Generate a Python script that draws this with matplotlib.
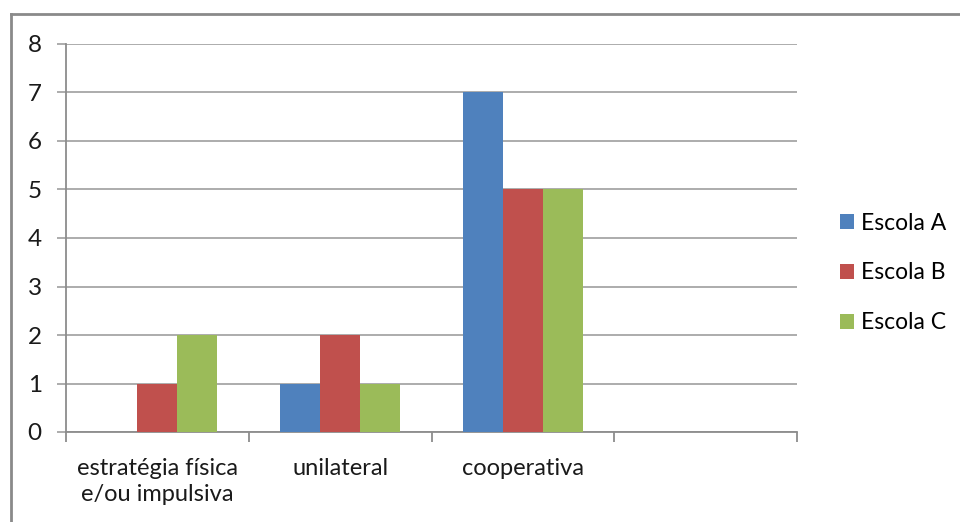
import matplotlib
matplotlib.use("Agg")
import matplotlib.pyplot as plt
from matplotlib.lines import Line2D
import numpy as np

categories = ["estratégia física\ne/ou impulsiva", "unilateral", "cooperativa", ""]
series_names = ["Escola A", "Escola B", "Escola C"]
escola_a = [0, 1, 7, 0]
escola_b = [1, 2, 5, 0]
escola_c = [2, 1, 5, 0]
yticks = [0, 1, 2, 3, 4, 5, 6, 7, 8]

colors = ["#4F81BD", "#C0504D", "#9BBB59"]
plt.rcParams['font.family'] = ['Lato', 'DejaVu Sans']
fs = 17

fig = plt.figure(figsize=(9.6, 5.22), dpi=100)
ax = fig.add_axes([66/960, 1-432/522, (797-66)/960, (432-44)/522])

centers = np.arange(len(categories)) + 0.5
w = 0.219
for i, (vals, c, name) in enumerate(zip([escola_a, escola_b, escola_c], colors, series_names)):
    ax.bar(centers + (i-1)*w, vals, width=w, color=c, label=name, zorder=3, linewidth=0)

ax.set_xlim(0, len(categories))
ax.set_ylim(0, 8)
ax.set_yticks(yticks)
ax.set_yticklabels([str(t) for t in yticks], fontsize=17.5, color="#1a1a1a")
ax.yaxis.grid(True, color="#A6A6A6", linewidth=1.3, zorder=0)
ax.tick_params(axis='y', length=6.5, width=1.3, color="#A6A6A6", pad=11)

ax.set_xticks(np.arange(len(categories)+1))
ax.set_xticklabels([])
ax.set_xticks(centers, minor=True)
ax.set_xticklabels(categories, minor=True, fontsize=fs, color="#1a1a1a", linespacing=1.3)
ax.tick_params(axis='x', which='major', length=7.5, width=1.3, color="#8C8C8C")
ax.tick_params(axis='x', which='minor', length=0, pad=19)

for s in ['top', 'right']:
    ax.spines[s].set_visible(False)
ax.spines['left'].set_color("#8C8C8C")
ax.spines['bottom'].set_color("#8C8C8C")
ax.spines['left'].set_linewidth(1.3)
ax.spines['bottom'].set_linewidth(1.3)

handles, labels = ax.get_legend_handles_labels()
leg = fig.legend(handles, labels, loc='center left', bbox_to_anchor=(831/960, 1-273/522),
                 frameon=False, fontsize=16.5, handlelength=0.62, handleheight=0.62,
                 handletextpad=0.3, labelspacing=1.25, borderaxespad=0)

# figure border (left & top)
fig.add_artist(Line2D([11/960, 11/960], [0, 1-14/522], transform=fig.transFigure,
                      color="#8A8A8A", linewidth=2))
fig.add_artist(Line2D([11/960, 1], [1-14/522, 1-14/522], transform=fig.transFigure,
                      color="#8A8A8A", linewidth=2))

fig.savefig("out.png", dpi=100)
